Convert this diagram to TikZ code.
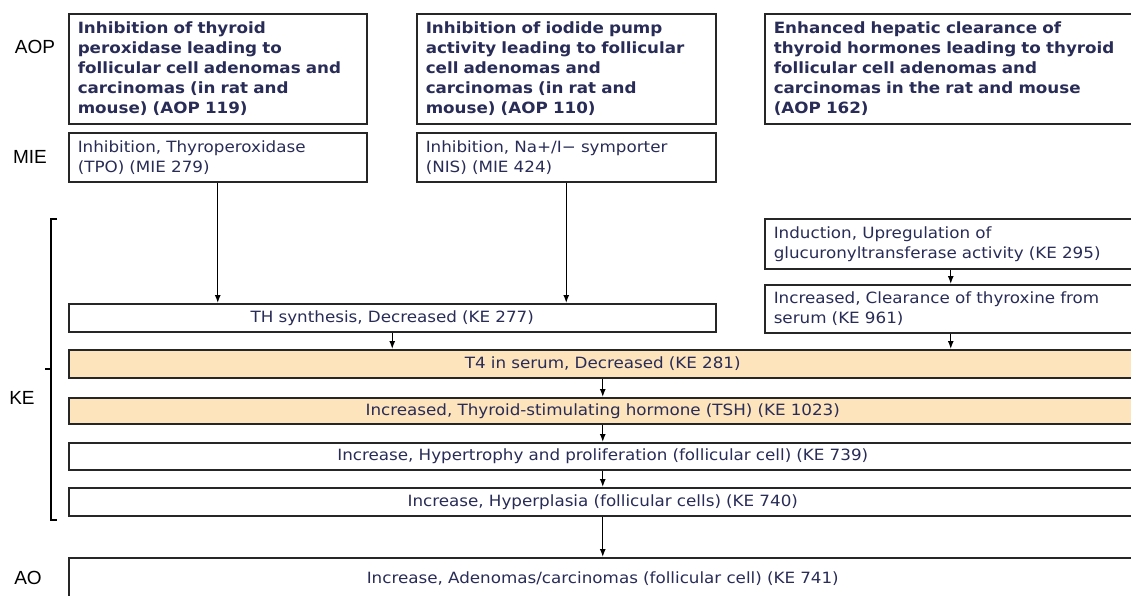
\documentclass[tikz,border=0pt]{standalone}
\usepackage{fontspec}
\setmainfont{DejaVu Sans}[FakeStretch=1.08]
\newfontfamily\levelfont{Liberation Sans}
\usetikzlibrary{arrows.meta}
\definecolor{navytext}{RGB}{40,44,86}
\definecolor{peach}{RGB}{253,228,188}

\begin{document}
\begin{tikzpicture}
    [
        x=1pt,y=-1pt,
        Box/.style={rectangle,draw=black!85,line width=1.5pt,anchor=north west,inner xsep=9pt,inner ysep=0pt,text=navytext,font=\fontsize{15.5}{20}\selectfont},
        TitleBox/.style={Box,align=left,minimum height=110pt,font=\fontsize{15.5}{20}\selectfont\bfseries},
        EventBox/.style={Box,align=left},
        StepBox/.style={Box,align=center,text width=1050pt},
        Level/.style={font=\levelfont\fontsize{19}{22}\selectfont},
        Link/.style={-{Latex[length=8pt,width=6pt]},line width=1.3pt}
    ]
    \clip (0,0) rectangle (1131,595);

    % levels
    \node[Level] (aoplevel) at (35,47) {AOP};
    \node[Level] (mielevel) at (30,157) {MIE};
    \node[Level] (kelevel) at (22,398) {KE};
    \node[Level] (aolevel) at (28,578) {AO};
    \draw[line width=1.2pt] (57,219) -- (51,219) -- (51,520) -- (57,520) (51,369) -- (45,369);

    % AOP row
    \node[TitleBox,text width=280pt] (aop119) at (68,13) {Inhibition of thyroid\\peroxidase leading to\\follicular cell adenomas and\\carcinomas (in rat and\\mouse) (AOP 119)};
    \node[TitleBox,text width=281pt] (aop110) at (416,13) {Inhibition of iodide pump\\activity leading to follicular\\cell adenomas and\\carcinomas (in rat and\\mouse) (AOP 110)};
    \node[TitleBox,text width=354pt] (aop162) at (764,13) {Enhanced hepatic clearance of\\thyroid hormones leading to thyroid\\follicular cell adenomas and\\carcinomas in the rat and mouse\\(AOP 162)};

    % MIE row
    \node[EventBox,text width=280pt,minimum height=49pt] (mie279) at (68,132) {Inhibition, Thyroperoxidase\\(TPO) (MIE 279)};
    \node[EventBox,text width=281pt,minimum height=49pt] (mie424) at (416,132) {Inhibition, Na+/I− symporter\\(NIS) (MIE 424)};

    % KE
    \node[EventBox,text width=354pt,minimum height=50pt] (ke295) at (764,218) {Induction, Upregulation of\\glucuronyltransferase activity (KE 295)};
    \node[EventBox,text width=354pt,minimum height=48pt] (ke961) at (764,284) {Increased, Clearance of thyroxine from\\serum (KE 961)};
    \node[StepBox,text width=629pt,minimum height=28pt] (ke277) at (68,303) {TH synthesis, Decreased (KE 277)};
    \node[StepBox,fill=peach,minimum height=28pt] (ke281) at (68,349) {T4 in serum, Decreased (KE 281)};
    \node[StepBox,fill=peach,minimum height=26pt] (ke1023) at (68,397) {Increased, Thyroid-stimulating hormone (TSH) (KE 1023)};
    \node[StepBox,minimum height=27pt] (ke739) at (68,442) {Increase, Hypertrophy and proliferation (follicular cell) (KE 739)};
    \node[StepBox,minimum height=28pt] (ke740) at (68,487) {Increase, Hyperplasia (follicular cells) (KE 740)};

    % AO
    \node[StepBox,minimum height=42pt] (ke741) at (68,557) {Increase, Adenomas/carcinomas (follicular cell) (KE 741)};

    % links
    \draw[Link] (mie279.south) -- (mie279.south |- ke277.north);
    \draw[Link] (mie424.south) -- (mie424.south |- ke277.north);
    \draw[Link] (ke295.south) -- (ke961.north);
    \draw[Link] (ke277.south) -- (ke277.south |- ke281.north);
    \draw[Link] (ke961.south) -- (ke961.south |- ke281.north);
    \draw[Link] (ke281.south) -- (ke1023.north);
    \draw[Link] (ke1023.south) -- (ke739.north);
    \draw[Link] (ke739.south) -- (ke740.north);
    \draw[Link] (ke740.south) -- (ke741.north);
\end{tikzpicture}
\end{document}
